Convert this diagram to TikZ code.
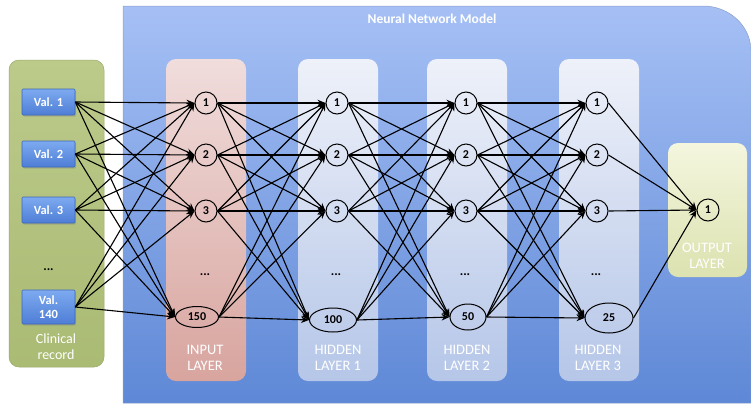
\documentclass[tikz,border=0pt]{standalone}
\usepackage{fontspec}
\setmainfont{Carlito}
\usetikzlibrary{shapes.geometric,arrows.meta,shadows}
\definecolor{panelTop}{HTML}{A6C0F5}
\definecolor{panelBot}{HTML}{5E88D6}
\definecolor{panelLine}{HTML}{8A9FC8}
\definecolor{greenTop}{HTML}{BCCA8A}
\definecolor{greenBot}{HTML}{AABB74}
\definecolor{greenLine}{HTML}{9AAA68}
\definecolor{valTop}{HTML}{7DAAF0}
\definecolor{valBot}{HTML}{4E7ED6}
\definecolor{valLine}{HTML}{3E68B8}
\definecolor{pinkTop}{HTML}{F0DDDC}
\definecolor{pinkBot}{HTML}{D8A49E}
\definecolor{hidTop}{HTML}{EEF1F9}
\definecolor{hidBot}{HTML}{B5C6E8}
\definecolor{outTop}{HTML}{F4F6DE}
\definecolor{outBot}{HTML}{DCE2B0}
\tikzset{
  layerbox/.style={rounded corners=10pt},
  valbox/.style={draw=valLine, line width=0.6pt, top color=valTop, bottom color=valBot,
     minimum width=53pt, minimum height=26pt, text=white, font=\fontsize{12.5}{14}\selectfont\bfseries,
     align=center, inner sep=1pt, rounded corners=1pt, drop shadow={shadow xshift=1pt, shadow yshift=-1.5pt, opacity=0.35}},
  neuron/.style={circle, draw=black, line width=1pt, minimum size=22pt, inner sep=0pt,
     font=\fontsize{12}{12}\selectfont\bfseries},
  bigneuron/.style={ellipse, draw=black, line width=1pt, inner sep=0pt,
     font=\fontsize{12}{12}\selectfont\bfseries},
  dotsnode/.style={font=\fontsize{13}{13}\selectfont\bfseries, inner sep=0pt},
  layerlabel/.style={text=white, font=\fontsize{14.5}{16}\selectfont, align=center, inner sep=0pt},
  conn/.style={line width=1.1pt, -{Stealth[length=8pt,width=6.5pt]}}
}
\begin{document}
\begin{tikzpicture}[x=1pt,y=1pt]
\useasboundingbox (0,0) rectangle (751,-405);
% main panel
\path[top color=panelTop, bottom color=panelBot, draw=panelLine, line width=0.5pt]
  (123,-403) -- (123,-6) -- (703,-6) arc[start angle=90, end angle=0, x radius=48, y radius=45] -- (751,-403) -- cycle;
\node[text=white, font=\fontsize{13.5}{14}\selectfont\bfseries] (title) at (432,-19) {Neural Network Model};
% clinical record
\path[layerbox, top color=greenTop, bottom color=greenBot, draw=greenLine, line width=0.5pt]
  (9,-60) rectangle (104,-367);
\node[layerlabel, font=\fontsize{14}{16}\selectfont] (clin) at (56,-347) {Clinical\\record};
% layer boxes
\path[layerbox, top color=pinkTop, bottom color=pinkBot] (166,-59) rectangle (246,-381);
\path[layerbox, top color=hidTop, bottom color=hidBot] (298,-59) rectangle (378,-381);
\path[layerbox, top color=hidTop, bottom color=hidBot] (427,-59) rectangle (507,-381);
\path[layerbox, top color=hidTop, bottom color=hidBot] (559,-59) rectangle (639,-381);
\path[layerbox, top color=outTop, bottom color=outBot] (668,-143) rectangle (747,-277);
% labels
\node[layerlabel] (linput) at (205,-358) {INPUT\\LAYER};
\node[layerlabel] (lh1) at (338,-358) {HIDDEN\\LAYER 1};
\node[layerlabel] (lh2) at (467,-358) {HIDDEN\\LAYER 2};
\node[layerlabel] (lh3) at (598,-358) {HIDDEN\\LAYER 3};
\node[layerlabel] (lout) at (707,-256) {OUTPUT\\LAYER};
% value boxes
\node[valbox] (v1) at (48.5,-102) {Val. 1};
\node[valbox] (v2) at (48.5,-154) {Val. 2};
\node[valbox] (v3) at (48.5,-210) {Val. 3};
\node[dotsnode] (vd) at (48.5,-270) {...};
\node[valbox, minimum height=34pt] (v4) at (48.5,-307) {Val.\\140};
% neurons
\foreach \n/\x in {a/206,b/337,c/466,d/597}{
  \node[neuron] (\n1) at (\x,-103) {1};
  \node[neuron] (\n2) at (\x,-155) {2};
  \node[neuron] (\n3) at (\x,-211) {3};
  \node[dotsnode] (\n d) at (\x-1,-275) {...};
}
\node[bigneuron, minimum width=43pt, minimum height=21pt] (a4) at (197,-317) {150};
\node[bigneuron, minimum width=47pt, minimum height=24pt] (b4) at (333,-320) {100};
\node[bigneuron, minimum width=36pt, minimum height=26pt] (c4) at (468,-317) {50};
\node[bigneuron, minimum width=48pt, minimum height=30pt] (d4) at (609,-318) {25};
\node[neuron] (o1) at (708,-210) {1};
% connectors
\foreach \i in {1,...,4}{
  \foreach \j in {1,...,4}{
    \draw[conn] (v\i.east) -- (a\j.west);
    \draw[conn] (a\i.east) -- (b\j.west);
    \draw[conn] (b\i.east) -- (c\j.west);
    \draw[conn] (c\i.east) -- (d\j.west);
  }
  \draw[conn] (d\i.east) -- (o1.west);
}
\end{tikzpicture}
\end{document}
